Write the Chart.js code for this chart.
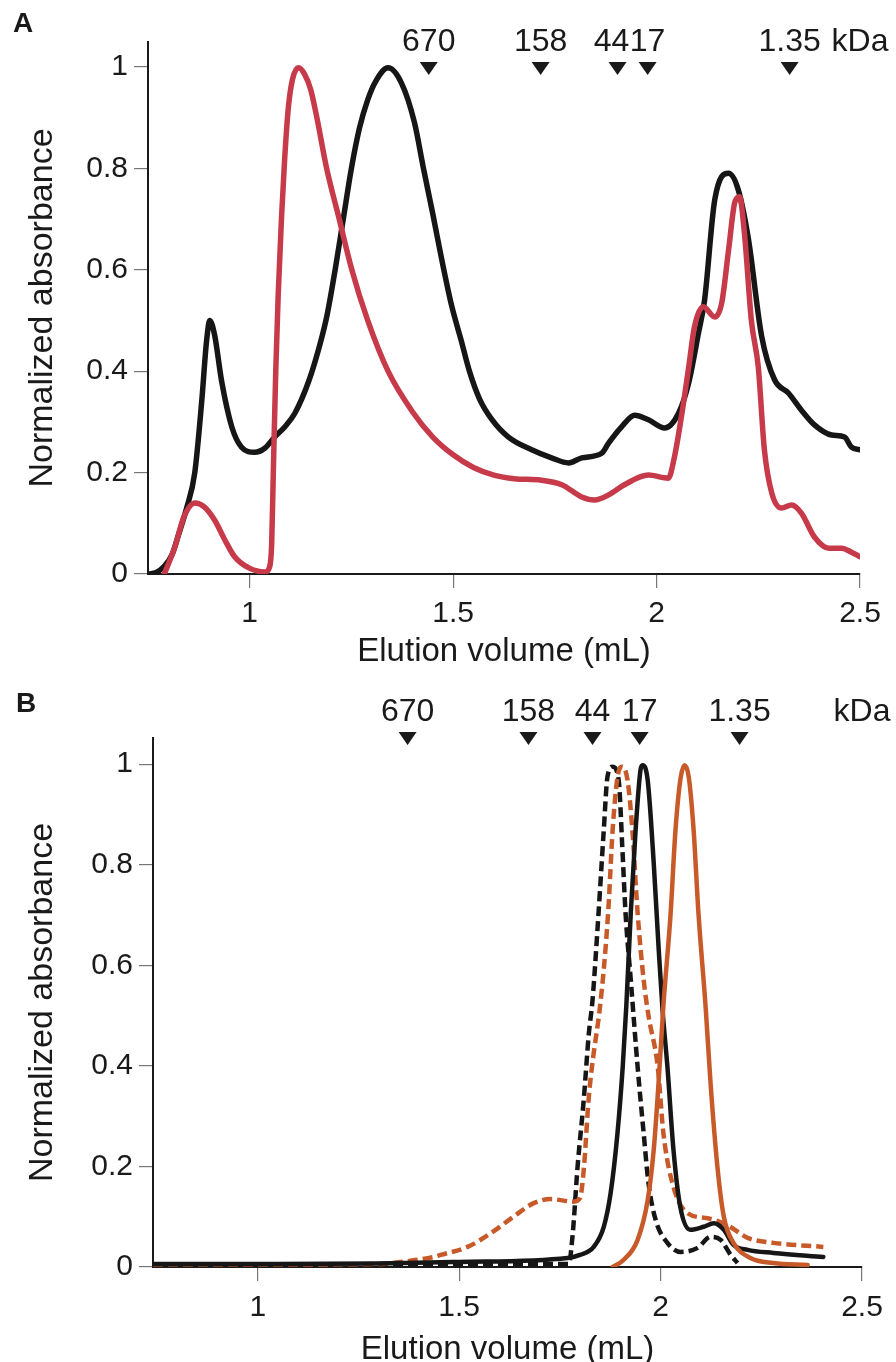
<!DOCTYPE html>
<html>
<head>
<meta charset="utf-8">
<script src="https://cdn.jsdelivr.net/npm/chart.js@4.4.1/dist/chart.umd.min.js"></script>
<style>
  html, body { margin: 0; padding: 0; background: #fff; overflow: hidden; }
  .panel { position: absolute; left: 0; }
  #wrapA { top: 0; }
  #wrapB { top: 680px; }
</style>
</head>
<body>
<div class="panel" id="wrapA"><canvas id="chartA" width="896" height="680"></canvas></div>
<div class="panel" id="wrapB"><canvas id="chartB" width="896" height="700"></canvas></div>
<script>
// ---- data: panel A (elution profiles) ----
const aBlackX = [0.75, 0.77, 0.79, 0.81, 0.826, 0.845, 0.865, 0.882, 0.894, 0.902, 0.914, 0.931, 0.956, 0.98, 1.012, 1.037, 1.061, 1.086, 1.111, 1.145, 1.17, 1.19, 1.21, 1.23, 1.25, 1.27, 1.29, 1.31, 1.34, 1.373, 1.405, 1.427, 1.45, 1.472, 1.496, 1.52, 1.54, 1.565, 1.595, 1.636, 1.693, 1.742, 1.784, 1.816, 1.865, 1.882, 1.914, 1.946, 1.98, 2.02, 2.054, 2.079, 2.103, 2.118, 2.143, 2.177, 2.201, 2.226, 2.258, 2.29, 2.324, 2.356, 2.388, 2.43, 2.462, 2.479, 2.5];
const aBlackY = [0, 0.003, 0.015, 0.04, 0.08, 0.13, 0.2, 0.34, 0.46, 0.5, 0.47, 0.38, 0.29, 0.25, 0.24, 0.248, 0.27, 0.29, 0.317, 0.38, 0.445, 0.51, 0.6, 0.7, 0.8, 0.88, 0.935, 0.972, 0.998, 0.968, 0.89, 0.8, 0.71, 0.62, 0.53, 0.46, 0.4, 0.345, 0.305, 0.27, 0.245, 0.229, 0.219, 0.229, 0.238, 0.258, 0.29, 0.313, 0.304, 0.288, 0.317, 0.377, 0.475, 0.54, 0.738, 0.79, 0.757, 0.659, 0.47, 0.383, 0.357, 0.323, 0.294, 0.274, 0.27, 0.25, 0.245];
const aRedX = [0.79, 0.816, 0.838, 0.865, 0.889, 0.914, 0.939, 0.963, 0.998, 1.037, 1.049, 1.054, 1.058, 1.064, 1.07, 1.078, 1.086, 1.095, 1.105, 1.12, 1.135, 1.15, 1.165, 1.189, 1.22, 1.251, 1.29, 1.34, 1.4, 1.45, 1.5, 1.55, 1.6, 1.65, 1.717, 1.767, 1.816, 1.848, 1.882, 1.921, 1.98, 2.029, 2.044, 2.061, 2.079, 2.093, 2.115, 2.143, 2.16, 2.177, 2.192, 2.204, 2.216, 2.233, 2.25, 2.265, 2.283, 2.307, 2.332, 2.356, 2.388, 2.423, 2.455, 2.479, 2.5];
const aRedY = [0, 0.053, 0.112, 0.14, 0.132, 0.106, 0.067, 0.034, 0.012, 0.004, 0.014, 0.06, 0.2, 0.4, 0.55, 0.7, 0.82, 0.92, 0.975, 0.998, 0.985, 0.955, 0.9, 0.8, 0.7, 0.6, 0.5, 0.4, 0.32, 0.27, 0.235, 0.21, 0.195, 0.188, 0.185, 0.176, 0.152, 0.146, 0.156, 0.176, 0.195, 0.189, 0.231, 0.31, 0.408, 0.487, 0.527, 0.507, 0.534, 0.639, 0.732, 0.744, 0.672, 0.5, 0.408, 0.245, 0.16, 0.13, 0.136, 0.12, 0.073, 0.051, 0.051, 0.043, 0.034];

// ---- data: panel B ----
const bBlackX = [0.74, 1.0, 1.3, 1.5, 1.769, 1.8, 1.834, 1.859, 1.876, 1.893, 1.906, 1.915, 1.926, 1.938, 1.95, 1.955, 1.968, 1.983, 1.995, 2.005, 2.017, 2.032, 2.049, 2.074, 2.107, 2.132, 2.157, 2.181, 2.216, 2.28, 2.404];
const bBlackY = [0.006, 0.006, 0.007, 0.01, 0.018, 0.024, 0.04, 0.08, 0.147, 0.266, 0.398, 0.52, 0.704, 0.869, 0.988, 0.998, 0.968, 0.803, 0.636, 0.51, 0.398, 0.233, 0.119, 0.074, 0.08, 0.087, 0.074, 0.044, 0.034, 0.028, 0.02];
const bBlackDashX = [0.74, 1.0, 1.5, 1.772, 1.782, 1.794, 1.809, 1.822, 1.831, 1.846, 1.859, 1.868, 1.881, 1.896, 1.905, 1.913, 1.926, 1.943, 1.958, 1.97, 1.988, 2.017, 2.05, 2.092, 2.124, 2.149, 2.174, 2.191];
const bBlackDashY = [0.005, 0.005, 0.006, 0.006, 0.067, 0.2, 0.33, 0.465, 0.53, 0.704, 0.869, 0.974, 0.995, 0.968, 0.835, 0.704, 0.571, 0.398, 0.266, 0.167, 0.093, 0.048, 0.03, 0.038, 0.06, 0.054, 0.024, 0.008];
const bOrangeDashX = [0.74, 1.0, 1.3, 1.355, 1.437, 1.454, 1.521, 1.578, 1.635, 1.685, 1.727, 1.784, 1.8, 1.81, 1.821, 1.83, 1.85, 1.862, 1.871, 1.881, 1.893, 1.905, 1.918, 1.93, 1.943, 1.958, 1.97, 1.993, 2.007, 2.032, 2.067, 2.117, 2.166, 2.216, 2.28, 2.404];
const bOrangeDashY = [0.005, 0.005, 0.006, 0.01, 0.02, 0.024, 0.04, 0.067, 0.1, 0.127, 0.135, 0.13, 0.137, 0.2, 0.33, 0.4, 0.52, 0.62, 0.72, 0.869, 0.974, 0.995, 0.968, 0.869, 0.704, 0.571, 0.5, 0.398, 0.266, 0.159, 0.107, 0.097, 0.083, 0.058, 0.048, 0.04];
const bOrangeX = [1.881, 1.908, 1.943, 1.968, 1.983, 1.995, 2.007, 2.025, 2.037, 2.05, 2.06, 2.07, 2.082, 2.094, 2.112, 2.124, 2.141, 2.157, 2.181, 2.223, 2.28, 2.365];
const bOrangeY = [0, 0.014, 0.054, 0.133, 0.233, 0.366, 0.52, 0.704, 0.869, 0.974, 0.998, 0.974, 0.869, 0.704, 0.515, 0.366, 0.2, 0.1, 0.048, 0.018, 0.008, 0.004];

// ---- axes and size markers ----
const xTicks = [1, 1.5, 2, 2.5];
const yTicks = [0, 0.2, 0.4, 0.6, 0.8, 1];
const markerLabels = ['670', '158', '44', '17', '1.35'];
const markerA = [1.44, 1.715, 1.904, 1.978, 2.327];
const markerB = [1.372, 1.672, 1.831, 1.948, 2.196];
const unitLabel = 'kDa';

const FONT = '"Liberation Sans", Arial, Helvetica, sans-serif';
const INK = '#1a1a1a';
Chart.defaults.font.family = FONT;
Chart.defaults.color = INK;

function pts(xs, ys) {
  return xs.map((x, i) => ({ x: x, y: ys[i] }));
}

// triangles + size labels above the plot
const markerPlugin = {
  id: 'markers',
  afterDraw(chart, args, opts) {
    const ctx = chart.ctx;
    const x = chart.scales.x;
    ctx.save();
    ctx.fillStyle = INK;
    ctx.textAlign = 'center';
    ctx.textBaseline = 'middle';
    ctx.font = '32px ' + FONT;
    opts.values.forEach((v, i) => {
      const px = x.getPixelForValue(v);
      ctx.beginPath();
      ctx.moveTo(px - 9, opts.triTop);
      ctx.lineTo(px + 9, opts.triTop);
      ctx.lineTo(px, opts.triTop + 13);
      ctx.closePath();
      ctx.fill();
      ctx.fillText(opts.labels[i], px + (opts.dx[i] || 0), opts.textY);
    });
    ctx.fillText(unitLabel, x.getPixelForValue(2.5), opts.textY);
    ctx.font = 'bold 28px ' + FONT;
    ctx.fillText(opts.letter, opts.letterX, 24);
    ctx.restore();
  }
};

function makeOptions(cfg) {
  return {
    responsive: false,
    animation: false,
    layout: { padding: { top: cfg.top, right: cfg.right, left: 0, bottom: 0 } },
    plugins: {
      legend: { display: false },
      tooltip: { enabled: false },
      markers: cfg.markers
    },
    elements: { point: { radius: 0 } },
    scales: {
      x: {
        type: 'linear',
        min: cfg.xmin, max: 2.5,
        afterFit: s => { s.height = cfg.xHeight; },
        afterBuildTicks: s => { s.ticks = xTicks.map(v => ({ value: v })); },
        border: { color: INK, width: 2 },
        grid: { drawOnChartArea: false, drawTicks: true, tickLength: 14, color: '#777', lineWidth: 1.2 },
        ticks: { font: { size: 30 }, padding: cfg.xPad, color: INK, maxRotation: 0, callback: v => String(v) },
        title: { display: true, text: 'Elution volume (mL)', font: { size: 33, lineHeight: 1.2 }, padding: { top: 0, bottom: cfg.titlePad }, color: INK }
      },
      y: {
        min: 0, max: cfg.ymax,
        afterFit: s => { s.width = cfg.yWidth; },
        afterBuildTicks: s => { s.ticks = yTicks.map(v => ({ value: v })); },
        border: { color: INK, width: 2 },
        grid: { drawOnChartArea: false, drawTicks: true, tickLength: 14, color: '#777', lineWidth: 1.2 },
        ticks: { font: { size: 30 }, padding: 6, color: INK, callback: v => String(v) },
        title: { display: true, text: 'Normalized absorbance', font: { size: 34, lineHeight: 1.2 }, padding: { top: 22, bottom: 0 }, color: INK }
      }
    }
  };
}

function line(data, color, width, dash) {
  return {
    data: data,
    borderColor: color,
    borderWidth: width,
    borderDash: dash || [],
    borderCapStyle: dash ? 'butt' : 'round',
    borderJoinStyle: 'round',
    cubicInterpolationMode: 'monotone',
    fill: false,
    pointRadius: 0
  };
}

new Chart(document.getElementById('chartA'), {
  type: 'line',
  data: {
    datasets: [
      line(pts(aRedX, aRedY), '#c63a4a', 5.5),
      line(pts(aBlackX, aBlackY), '#161616', 5.5)
    ]
  },
  options: makeOptions({
    top: 42, right: 36, xmin: 0.75, ymax: 1.049, xHeight: 106, yWidth: 148, xPad: 8, titlePad: 8,
    markers: { values: markerA, labels: markerLabels, dx: [0, 0, -6, 0, 0], triTop: 62, textY: 42, letter: 'A', letterX: 23 }
  }),
  plugins: [markerPlugin]
});

new Chart(document.getElementById('chartB'), {
  type: 'line',
  data: {
    datasets: [
      line(pts(bOrangeX, bOrangeY), '#c85a2a', 4.5),
      line(pts(bBlackX, bBlackY), '#161616', 4.5),
      line(pts(bOrangeDashX, bOrangeDashY), '#c85a2a', 4.5, [10, 5]),
      line(pts(bBlackDashX, bBlackDashY), '#161616', 4.5, [10, 5])
    ]
  },
  options: makeOptions({
    top: 58, right: 34, xmin: 0.74, ymax: 1.052, xHeight: 113, yWidth: 153, xPad: 9, titlePad: 10,
    markers: { values: markerB, labels: markerLabels, dx: [0, 0, 0, 0, 0], triTop: 52, textY: 32, letter: 'B', letterX: 26 }
  }),
  plugins: [markerPlugin]
});
</script>
</body>
</html>
